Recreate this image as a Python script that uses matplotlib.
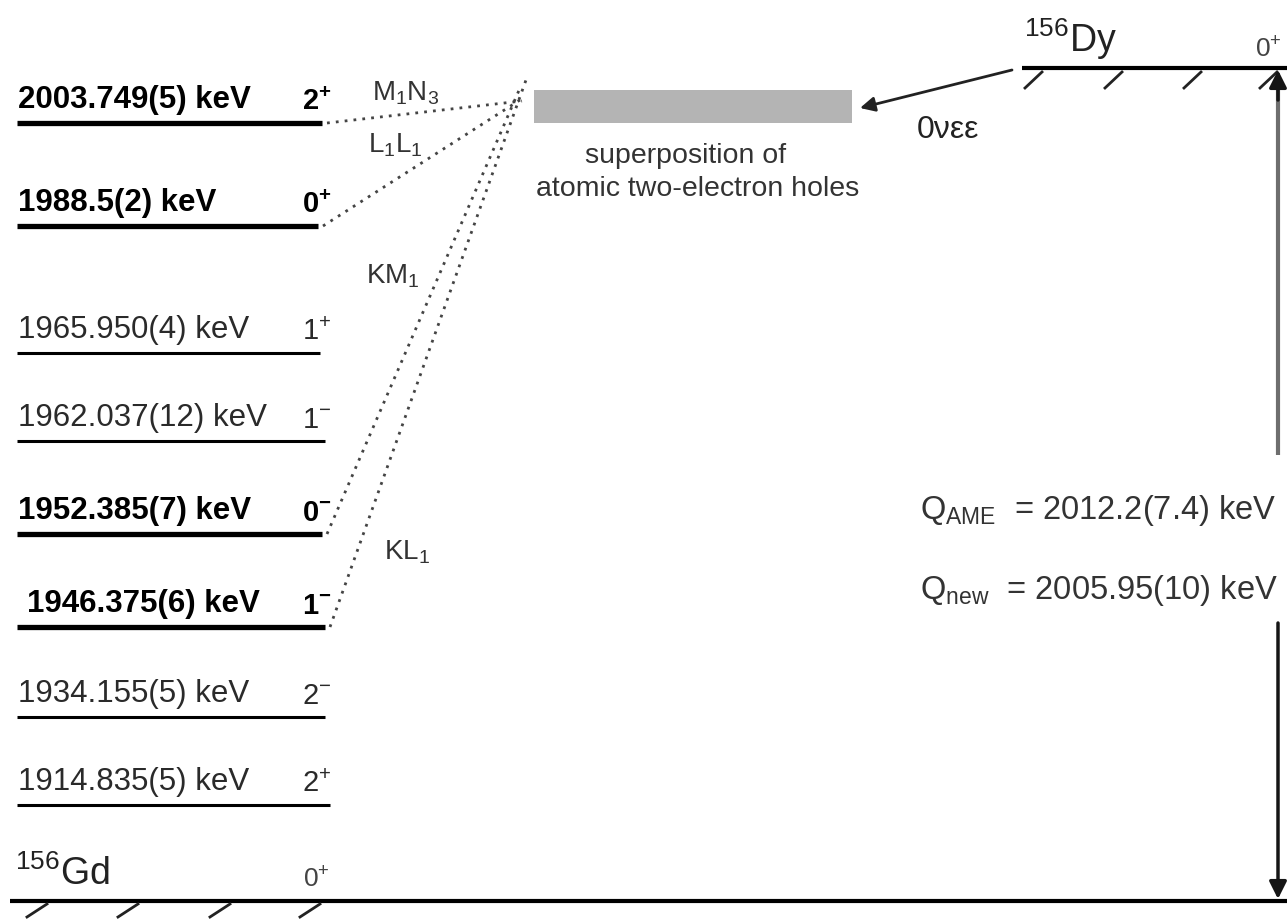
import matplotlib
matplotlib.use("Agg")
import matplotlib.pyplot as plt
from matplotlib.patches import Rectangle

plt.rcParams['font.family'] = ['Liberation Sans', 'DejaVu Sans']
plt.rcParams['mathtext.fontset'] = 'custom'
plt.rcParams['mathtext.rm'] = 'Liberation Sans'
plt.rcParams['mathtext.it'] = 'Liberation Sans'
plt.rcParams['mathtext.bf'] = 'Liberation Sans:bold'
plt.rcParams['mathtext.default'] = 'regular'

# excited states of 156Gd near the double-EC Q value
energies = ['2003.749(5)', '1988.5(2)', '1965.950(4)', '1962.037(12)',
            '1952.385(7)', '1946.375(6)', '1934.155(5)', '1914.835(5)']
spins = ['2', '0', '1', '1', '0', '1', '2', '2']
parities = ['+', '+', '+', '-', '-', '-', '-', '+']
resonant = [True, True, False, False, True, True, False, False]

# two-electron hole configurations linked to the resonant levels
holes = ['M$_1$N$_3$', 'L$_1$L$_1$', 'KM$_1$', 'KL$_1$']
hole_level = [0, 1, 4, 5]

q_labels = ['Q$_{AME}$', 'Q$_{new}$']
q_values = ['2012.2(7.4) keV', '2005.95(10) keV']

# drawing layout (pixel units, y down)
level_y = [123, 226, 353, 441, 534, 627, 717, 805]
level_x1 = [322, 318, 320, 325, 322, 325, 325, 330]
label_x = [18, 18, 18, 18, 18, 27, 18, 18]
ground_y = 901
dy_y = 68
apex = [(522, 101), (520, 100), (520, 88), (526, 80)]
hole_pos = [(372, 93), (368, 145), (366, 276), (384, 552)]

fig = plt.figure(figsize=(12.87, 9.19), dpi=100)
ax = fig.add_axes([0, 0, 1, 1])
ax.set_xlim(0, 1287)
ax.set_ylim(919, 0)
ax.axis('off')

for i, e in enumerate(energies):
    y = level_y[i]
    bold = resonant[i]
    ax.plot([17, level_x1[i]], [y, y], color='k', lw=3.8 if bold else 2.2,
            solid_capstyle='butt')
    ax.text(label_x[i], y - 8, e + ' keV', fontsize=22.5,
            fontweight='bold' if bold else 'normal',
            color='k' if bold else '#2a2a2a', va='bottom', ha='left')
    if bold:
        sp = r'$\mathbf{%s}^{\mathbf{%s}}$' % (spins[i], parities[i])
    else:
        sp = r'$%s^{%s}$' % (spins[i], parities[i])
    ax.text(302, y - 7, sp, fontsize=21, color='k' if bold else '#2a2a2a',
            va='bottom', ha='left')

# ground state of 156Gd
ax.plot([10, 1287], [ground_y, ground_y], color='k', lw=3, solid_capstyle='butt')
for hx in [27, 118, 210, 300]:
    ax.plot([hx, hx + 20], [917, 904], color='#222222', lw=2)
ax.text(15, ground_y - 8, r'$^{156}$Gd', fontsize=27, color='#222222',
        va='bottom', ha='left')
ax.text(303, ground_y - 8, r'$0^{+}$', fontsize=19, color='#444444',
        va='bottom', ha='left')

# ground state of 156Dy
ax.plot([1022, 1287], [dy_y, dy_y], color='k', lw=3, solid_capstyle='butt')
for hx in [1025, 1105, 1184, 1260]:
    ax.plot([hx, hx + 17], [88, 72], color='#222222', lw=2)
ax.text(1024, dy_y - 6, r'$^{156}$Dy', fontsize=27, color='#222222',
        va='bottom', ha='left')
ax.text(1255, dy_y - 6, r'$0^{+}$', fontsize=19, color='#444444',
        va='bottom', ha='left')

# superposition of atomic holes
ax.add_patch(Rectangle((534, 90), 318, 33, color='#b4b4b4', lw=0))
ax.text(686, 156, 'superposition of', fontsize=20.5, color='#333333',
        ha='center', va='center')
ax.text(698, 189, 'atomic two-electron holes', fontsize=20.5, color='#333333',
        ha='center', va='center')

for k, name in enumerate(holes):
    i = hole_level[k]
    x0 = level_x1[i] + 5
    y0 = level_y[i]
    ax.plot([x0, apex[k][0]], [y0, apex[k][1]], color='#444444', lw=2,
            ls=(0, (1, 2.2)))
    ax.text(hole_pos[k][0], hole_pos[k][1], name, fontsize=20, color='#333333',
            ha='left', va='center')

# neutrinoless double electron capture
ax.annotate('', xy=(860, 108), xytext=(1012, 70),
            arrowprops=dict(arrowstyle='-|>', color='#222222', lw=2,
                            mutation_scale=22, shrinkA=0, shrinkB=0))
ax.text(917, 130, '0νεε', fontsize=23, color='#222222', ha='left', va='center')

# Q value arrow
ax.plot([1278, 1278], [90, 455], color='#6e6e6e', lw=3, solid_capstyle='butt')
ax.annotate('', xy=(1278, 70), xytext=(1278, 100),
            arrowprops=dict(arrowstyle='-|>', color='#151515', lw=2.5,
                            mutation_scale=26, shrinkA=0, shrinkB=0))
ax.annotate('', xy=(1278, 899), xytext=(1278, 623),
            arrowprops=dict(arrowstyle='-|>', color='#151515', lw=2.5,
                            mutation_scale=26, shrinkA=0, shrinkB=0))
for k in range(2):
    ax.text(920, 510 + 80 * k, q_labels[k] + '  = ' + q_values[k], fontsize=23.5,
            color='#333333', ha='left', va='center')

fig.savefig('out.png', dpi=100, facecolor='white')
